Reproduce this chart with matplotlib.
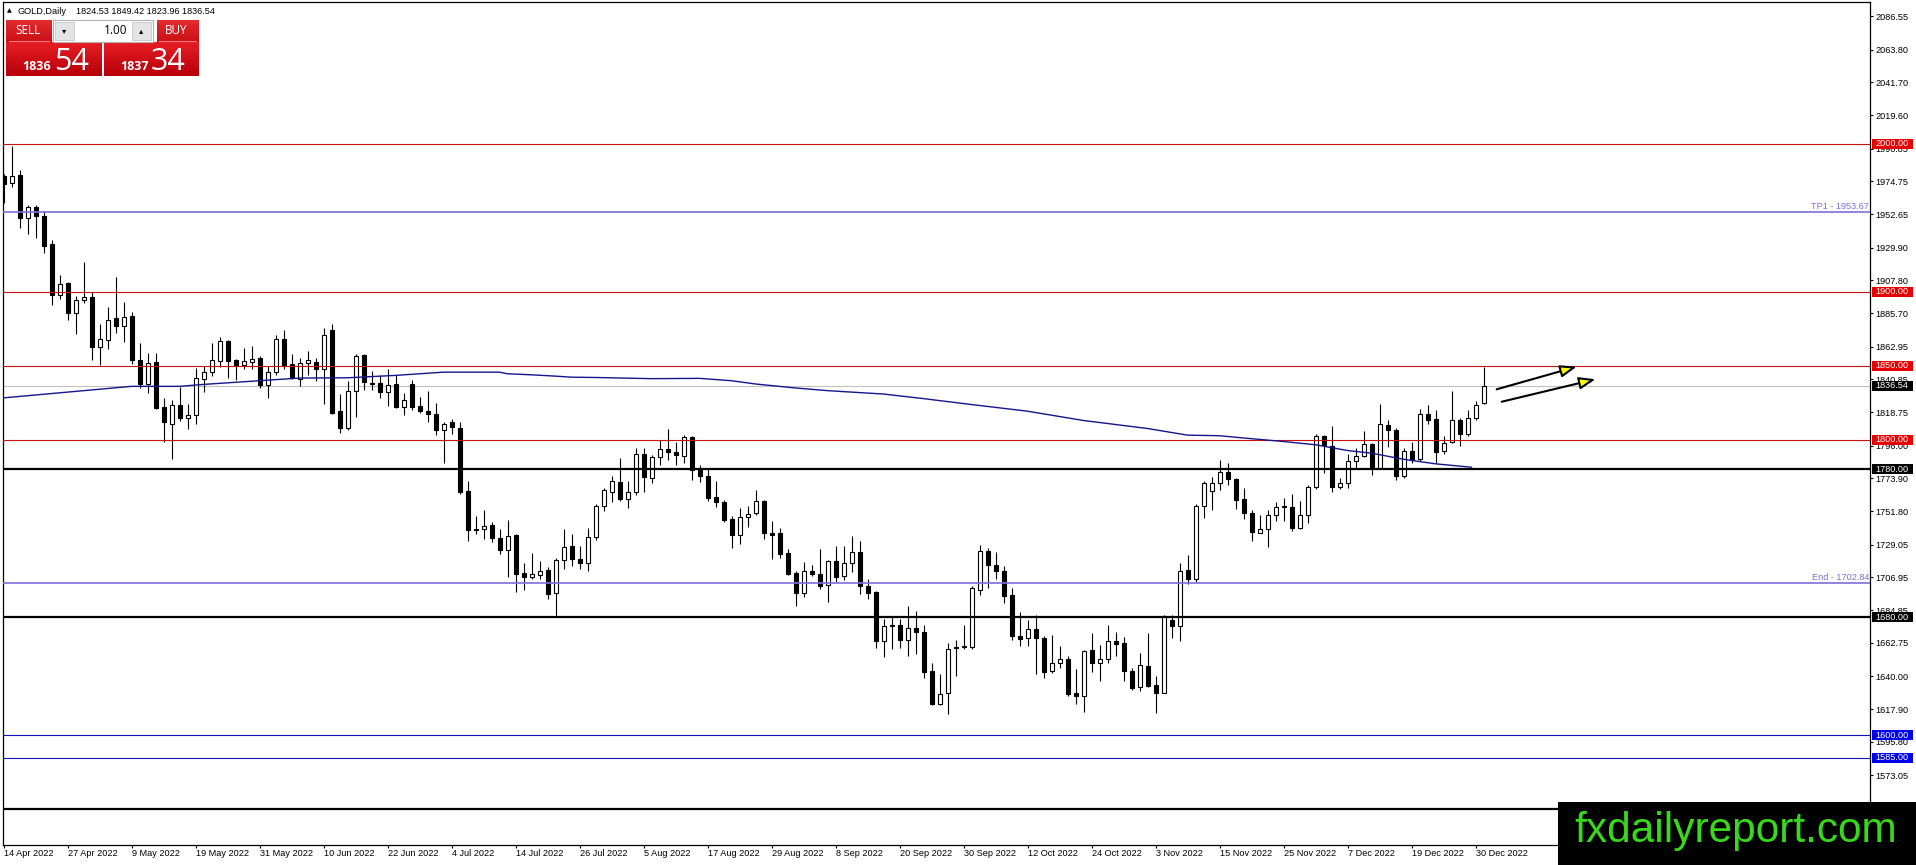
import matplotlib
matplotlib.use("Agg")
import matplotlib.pyplot as plt
from matplotlib.patches import Rectangle
from matplotlib.transforms import blended_transform_factory
import numpy as np

plt.rcParams['font.family'] = ['Liberation Sans', 'DejaVu Sans']

# ---------------- data (GOLD daily, 14 Apr 2022 .. 3 Jan 2023) ----------------
opens = [1978.4, 1973.8, 1978.8, 1950.2, 1957.6, 1951.5, 1932.1, 1897.9, 1905.7, 1885.9,
         1894.5, 1896.3, 1862.7, 1867.4, 1882.1, 1876.9, 1883.4, 1853.7, 1837.9, 1852.3,
         1821.9, 1810.8, 1823.7, 1814.9, 1816.5, 1841.3, 1846.0, 1853.4, 1866.5, 1853.9,
         1850.7, 1852.5, 1855.5, 1837.0, 1846.0, 1868.3, 1851.4, 1841.2, 1852.0, 1852.9,
         1848.0, 1874.3, 1819.6, 1807.9, 1833.1, 1857.0, 1838.7, 1838.5, 1832.2, 1837.4,
         1822.1, 1837.8, 1822.5, 1819.6, 1817.6, 1806.5, 1811.9, 1808.1, 1765.1, 1739.9,
         1739.9, 1742.6, 1733.3, 1725.7, 1735.4, 1709.7, 1707.4, 1708.8, 1711.7, 1696.4,
         1718.5, 1728.4, 1719.6, 1716.9, 1734.0, 1754.9, 1764.4, 1771.6, 1759.8, 1764.6,
         1790.5, 1774.1, 1788.4, 1793.9, 1791.8, 1788.9, 1802.0, 1780.5, 1775.5, 1761.2,
         1758.0, 1746.5, 1735.8, 1747.6, 1750.3, 1758.7, 1736.7, 1736.9, 1723.1, 1710.2,
         1696.3, 1711.5, 1709.0, 1701.6, 1717.7, 1707.9, 1716.3, 1724.0, 1700.9, 1696.8,
         1664.1, 1674.1, 1675.0, 1664.4, 1673.0, 1670.3, 1643.5, 1621.6, 1628.4, 1659.3,
         1659.5, 1659.9, 1698.7, 1724.9, 1715.6, 1711.3, 1695.3, 1667.6, 1665.6, 1672.3,
         1665.6, 1643.7, 1649.3, 1651.4, 1628.6, 1626.8, 1657.7, 1649.1, 1652.0, 1664.0,
         1662.6, 1643.7, 1632.9, 1646.9, 1634.0, 1628.8, 1678.4, 1674.1, 1711.7, 1706.0,
         1755.2, 1765.6, 1770.5, 1778.0, 1773.3, 1759.7, 1750.2, 1737.0, 1739.3, 1748.8,
         1754.9, 1754.3, 1740.4, 1748.8, 1767.8, 1802.2, 1795.9, 1767.8, 1770.5, 1785.3,
         1788.7, 1797.0, 1780.7, 1809.7, 1806.8, 1775.8, 1792.1, 1786.8, 1817.4, 1814.0,
         1792.1, 1798.2, 1813.6, 1803.8, 1814.7, 1824.53]
highs = [1979.5, 1998.6, 1982.2, 1958.5, 1959.0, 1954.9, 1934.8, 1911.2, 1906.9, 1897.2,
         1920.2, 1899.9, 1878.0, 1889.5, 1910.0, 1893.1, 1886.1, 1865.4, 1858.4, 1858.4,
         1828.4, 1826.6, 1835.9, 1824.3, 1848.7, 1849.8, 1865.2, 1869.7, 1867.4, 1854.8,
         1861.8, 1863.6, 1856.6, 1849.8, 1870.6, 1874.0, 1857.7, 1855.4, 1859.7, 1855.0,
         1875.7, 1878.4, 1831.1, 1839.4, 1857.7, 1857.7, 1846.2, 1843.5, 1847.5, 1843.7,
         1831.8, 1840.5, 1829.1, 1832.7, 1825.0, 1811.9, 1814.2, 1811.9, 1772.3, 1748.6,
         1752.2, 1744.6, 1739.9, 1745.5, 1736.0, 1716.4, 1723.6, 1718.0, 1714.2, 1720.3,
         1739.9, 1736.0, 1727.9, 1740.3, 1756.7, 1767.3, 1775.3, 1787.8, 1772.3, 1794.6,
         1794.6, 1790.0, 1799.8, 1807.5, 1798.4, 1802.9, 1802.5, 1783.0, 1780.9, 1772.1,
         1759.4, 1748.1, 1753.7, 1754.9, 1765.7, 1759.2, 1745.1, 1740.1, 1725.8, 1710.9,
         1717.2, 1715.4, 1725.8, 1718.6, 1728.1, 1728.1, 1734.9, 1731.5, 1706.1, 1697.5,
         1678.9, 1680.0, 1678.6, 1687.4, 1684.3, 1675.0, 1648.7, 1641.9, 1662.2, 1664.4,
         1674.6, 1701.0, 1728.7, 1727.1, 1724.2, 1714.5, 1699.4, 1683.2, 1678.0, 1681.8,
         1667.4, 1667.8, 1660.4, 1653.6, 1644.8, 1657.7, 1669.6, 1661.5, 1674.6, 1669.9,
         1666.3, 1645.3, 1656.1, 1669.0, 1640.1, 1681.4, 1681.4, 1716.3, 1721.9, 1756.5,
         1772.4, 1775.1, 1786.4, 1784.1, 1774.0, 1767.2, 1752.4, 1749.0, 1752.4, 1757.6,
         1760.4, 1763.3, 1758.6, 1769.4, 1804.0, 1803.4, 1809.0, 1774.0, 1790.5, 1794.3,
         1806.1, 1797.5, 1824.4, 1813.6, 1807.9, 1794.3, 1798.4, 1821.0, 1823.7, 1820.3,
         1802.2, 1833.2, 1814.7, 1819.9, 1826.0, 1849.42]
lows = [1960.3, 1971.1, 1943.0, 1938.9, 1936.2, 1926.0, 1891.1, 1894.9, 1880.7, 1871.5,
        1892.4, 1853.9, 1850.5, 1861.1, 1871.9, 1866.1, 1851.0, 1835.0, 1831.8, 1820.5,
        1798.4, 1787.1, 1812.6, 1807.4, 1810.8, 1832.2, 1843.1, 1849.2, 1841.9, 1840.4,
        1848.0, 1848.0, 1835.0, 1828.4, 1843.7, 1848.0, 1840.8, 1836.3, 1844.1, 1839.6,
        1824.5, 1817.5, 1804.3, 1806.5, 1815.3, 1833.8, 1833.6, 1828.2, 1822.7, 1821.5,
        1816.7, 1820.0, 1817.8, 1811.9, 1803.2, 1784.2, 1804.1, 1763.5, 1731.5, 1736.5,
        1733.1, 1731.1, 1722.5, 1707.4, 1697.3, 1698.4, 1706.1, 1705.6, 1692.6, 1680.8,
        1712.8, 1714.6, 1712.8, 1711.3, 1732.2, 1751.5, 1757.8, 1758.3, 1753.5, 1762.3,
        1764.6, 1770.5, 1782.8, 1786.6, 1782.8, 1784.3, 1772.6, 1771.2, 1758.9, 1754.6,
        1744.7, 1727.0, 1729.5, 1741.2, 1749.2, 1732.6, 1719.5, 1719.9, 1708.8, 1687.5,
        1693.6, 1707.9, 1699.1, 1690.2, 1703.8, 1705.0, 1710.6, 1695.4, 1692.2, 1658.9,
        1652.8, 1658.8, 1659.3, 1653.6, 1654.8, 1639.2, 1620.3, 1620.9, 1614.2, 1640.3,
        1658.8, 1658.8, 1694.9, 1699.8, 1706.1, 1689.7, 1664.9, 1660.4, 1660.4, 1641.5,
        1639.2, 1642.5, 1645.3, 1626.6, 1621.6, 1616.0, 1643.0, 1637.0, 1648.7, 1653.6,
        1637.0, 1630.6, 1630.2, 1632.5, 1615.3, 1628.4, 1666.0, 1664.0, 1702.6, 1703.8,
        1746.8, 1752.4, 1766.0, 1769.4, 1753.1, 1746.6, 1731.6, 1736.6, 1727.5, 1745.2,
        1745.0, 1738.4, 1739.3, 1743.8, 1767.0, 1777.8, 1764.9, 1766.5, 1767.6, 1780.7,
        1788.2, 1776.2, 1780.0, 1795.4, 1772.8, 1773.9, 1784.1, 1785.3, 1810.8, 1784.1,
        1790.5, 1797.5, 1795.9, 1802.7, 1813.1, 1823.96]
closes = [1972.7, 1978.4, 1949.7, 1957.6, 1951.5, 1931.0, 1897.9, 1905.1, 1885.7, 1894.7,
          1896.7, 1862.7, 1868.3, 1881.2, 1876.9, 1883.2, 1853.9, 1837.9, 1852.1, 1821.2,
          1812.0, 1823.7, 1814.9, 1816.5, 1841.9, 1846.0, 1853.7, 1866.5, 1853.2, 1850.3,
          1853.4, 1854.8, 1837.0, 1846.0, 1868.3, 1850.5, 1841.5, 1852.0, 1853.6, 1848.0,
          1870.9, 1818.2, 1807.9, 1833.1, 1856.8, 1839.0, 1837.4, 1832.2, 1837.2, 1822.1,
          1827.0, 1822.1, 1819.1, 1817.3, 1806.5, 1810.8, 1808.6, 1764.6, 1739.0, 1739.2,
          1741.9, 1733.6, 1725.7, 1735.1, 1709.5, 1707.4, 1709.0, 1711.5, 1695.9, 1718.5,
          1727.7, 1719.6, 1716.9, 1734.5, 1755.3, 1766.2, 1772.1, 1759.8, 1764.4, 1790.5,
          1774.8, 1788.4, 1793.9, 1791.6, 1789.6, 1802.0, 1779.4, 1775.3, 1760.8, 1757.8,
          1745.8, 1735.8, 1747.6, 1750.1, 1758.3, 1737.2, 1735.8, 1722.6, 1709.5, 1696.3,
          1711.3, 1709.3, 1701.1, 1717.7, 1707.2, 1716.3, 1723.8, 1701.3, 1696.3, 1664.1,
          1674.1, 1675.0, 1664.4, 1673.0, 1670.1, 1643.0, 1621.6, 1627.9, 1658.8, 1659.9,
          1660.4, 1699.4, 1724.9, 1715.6, 1710.9, 1694.2, 1667.4, 1665.3, 1672.3, 1665.6,
          1643.0, 1649.3, 1651.4, 1627.9, 1626.8, 1657.0, 1648.7, 1652.0, 1663.8, 1661.7,
          1643.7, 1631.8, 1647.5, 1633.6, 1628.4, 1680.9, 1674.1, 1711.3, 1706.0, 1755.2,
          1770.5, 1770.5, 1778.5, 1773.3, 1759.2, 1750.2, 1737.3, 1739.3, 1749.0, 1754.3,
          1754.3, 1740.4, 1748.8, 1767.8, 1802.2, 1796.6, 1767.8, 1770.5, 1785.3, 1788.7,
          1797.0, 1780.7, 1810.6, 1806.3, 1775.8, 1792.1, 1786.4, 1817.4, 1813.6, 1791.4,
          1797.7, 1813.3, 1803.8, 1814.7, 1823.5, 1836.54]

# moving average line, read at points (bar index, price)
ma_bars = [0, 16, 22, 25, 37, 43, 49, 55, 62, 63, 66, 69, 71, 74, 81, 87, 91, 94, 99,
           103, 110, 115, 121, 128, 135, 143, 148, 152, 156, 160, 164, 168, 171, 175,
           179, 183.5]
ma_vals = [1828.3, 1836.1, 1836.1, 1837.4, 1841.7, 1841.9, 1843.5, 1845.7, 1845.7,
           1844.6, 1843.9, 1843.0, 1842.3, 1842.1, 1841.3, 1841.5, 1839.9, 1837.7, 1835.0,
           1833.2, 1830.9, 1827.8, 1823.8, 1819.3, 1813.0, 1807.6, 1803.1, 1802.7, 1800.7,
           1798.8, 1796.6, 1792.7, 1790.9, 1786.8, 1783.7, 1781.4]

date_labels = ["14 Apr 2022", "27 Apr 2022", "9 May 2022", "19 May 2022", "31 May 2022",
               "10 Jun 2022", "22 Jun 2022", "4 Jul 2022", "14 Jul 2022", "26 Jul 2022",
               "5 Aug 2022", "17 Aug 2022", "29 Aug 2022", "8 Sep 2022", "20 Sep 2022",
               "30 Sep 2022", "12 Oct 2022", "24 Oct 2022", "3 Nov 2022", "15 Nov 2022",
               "25 Nov 2022", "7 Dec 2022", "19 Dec 2022", "30 Dec 2022"]
label_every = 8

price_ticks = [2086.55, 2063.80, 2041.70, 2019.60, 1996.85, 1974.75, 1952.65, 1929.90,
               1907.80, 1885.70, 1862.95, 1840.85, 1818.75, 1796.00, 1773.90, 1751.80,
               1729.05, 1706.95, 1684.85, 1662.75, 1640.00, 1617.90, 1595.80, 1573.05,
               1550.95, 1528.85]

red_levels = [2000.00, 1900.00, 1850.00, 1800.00]
black_levels = [1780.00, 1680.00, 1550.00]
blue_levels = [1600.00, 1585.00]
target_levels = [1953.67, 1702.84]
target_names = ["TP1", "End"]
current_price = 1836.54
header_symbol = "GOLD,Daily"
header_ohlc = [1824.53, 1849.42, 1823.96, 1836.54]
bid_price = 1836.54
ask_price = 1837.34
lot_size = 1.00

# arrows (start bar, start price, tip bar, tip price)
arrows = [(186.65, 1834.1, 196.65, 1849.4),
          (187.28, 1825.7, 199.0, 1840.9)]

# ---------------- figure ----------------
W, H = 1916, 865
fig = plt.figure(figsize=(W / 100, H / 100), dpi=100)
fig.patch.set_facecolor('white')
ax = fig.add_axes([3 / W, 1 - 845 / H, 1867 / W, 843 / H])
ax.set_facecolor('white')
ax.set_xlim(-0.0625, 233.3125)
ax.set_ylim(1525.93, 2096.02)
for s in ax.spines.values():
    s.set_color('black')
    s.set_linewidth(0.9)

RED_LINE = '#cc1010'
RED_BOX = '#e80000'
BLUE_LINE = '#1010c0'
BLUE_BOX = '#0000ee'
LAV = '#7b70dc'

# level lines
for lv in red_levels:
    ax.axhline(lv, color=RED_LINE, lw=0.8, zorder=4.5)
for lv in black_levels:
    ax.axhline(lv, color='black', lw=1.6, zorder=4.5)
for lv in blue_levels:
    ax.axhline(lv, color=BLUE_LINE, lw=0.8, zorder=4.5)
for lv in target_levels:
    ax.axhline(lv, color=LAV, lw=1.2, zorder=4.5)
ax.axhline(current_price, color='#c0c0c0', lw=0.8, zorder=1)

blend = blended_transform_factory(ax.transAxes, ax.transData)
for lv, nm in zip(target_levels, target_names):
    ax.text(0.99965, lv + 0.8, f"{nm} - {lv:.2f}", transform=blend, ha='right', va='bottom',
            color=LAV, fontsize=6.6, zorder=6)

# candles
x = np.arange(len(opens))
o = np.array(opens)
c = np.array(closes)
up = c >= o
ax.vlines(x, lows, highs, colors='black', linewidth=0.8, zorder=3)
ax.bar(x, np.abs(c - o), width=0.5, bottom=np.minimum(o, c),
       color=np.where(up, 'white', 'black'), edgecolor='black', linewidth=0.8, zorder=4)

# moving average
ax.plot(ma_bars, ma_vals, color='#14148c', lw=1.0, zorder=5)

# arrows
for sx, sy, tx, ty in arrows:
    ax.annotate('', xy=(tx, ty), xytext=(sx, sy),
                arrowprops=dict(arrowstyle='-|>,head_length=0.7,head_width=0.26',
                                mutation_scale=14, facecolor='#ffff00', edgecolor='black',
                                lw=1.5, shrinkA=0, shrinkB=0), zorder=6)

# y axis on right
ax.yaxis.tick_right()
ax.set_yticks(price_ticks)
ax.set_yticklabels([f"{t:.2f}" for t in price_ticks])
ax.tick_params(axis='y', direction='out', length=2.2, width=0.8, pad=1.4,
               labelsize=6.6, colors='black')
ax.tick_params(axis='y', left=False)

# x axis
ax.set_xticks(np.arange(len(date_labels)) * label_every)
ax.set_xticklabels(date_labels)
ax.tick_params(axis='x', direction='out', length=2.2, width=0.8, pad=0.8,
               labelsize=6.6, colors='black')
for lab in ax.get_xticklabels():
    lab.set_horizontalalignment('left')

# price boxes on the right axis
half = 5.0 / 1.4787
bx0 = (1871.5 - 3) / 1867
bx1 = (1913 - 3) / 1867


def price_box(val, color):
    ax.add_patch(Rectangle((bx0, val - half), bx1 - bx0, 2 * half, transform=blend,
                           facecolor=color, edgecolor='none', clip_on=False, zorder=7))
    ax.text((bx0 + bx1) / 2, val, f"{val:.2f}", transform=blend, ha='center', va='center',
            color='white', fontsize=6.6, zorder=8, clip_on=False)


for lv in red_levels:
    price_box(lv, RED_BOX)
for lv in black_levels:
    price_box(lv, 'black')
for lv in blue_levels:
    price_box(lv, BLUE_BOX)
price_box(current_price, 'black')


# ---------------- figure-level decorations (pixel helpers) ----------------
def fx(px):
    return px / W


def fy(py):
    return 1 - py / H


def prect(x0, y0, x1, y1, **kw):
    r = Rectangle((fx(x0), fy(y1)), (x1 - x0) / W, (y1 - y0) / H,
                  transform=fig.transFigure, **kw)
    fig.add_artist(r)
    return r


def gradient(x0, y0, x1, y1, c_top, c_bot, steps=12, z=10):
    ct = np.array(matplotlib.colors.to_rgb(c_top))
    cb = np.array(matplotlib.colors.to_rgb(c_bot))
    hgt = (y1 - y0) / steps
    for k in range(steps):
        t = k / (steps - 1)
        prect(x0, y0 + k * hgt, x1, y0 + (k + 1) * hgt + 0.3,
              facecolor=tuple(ct * (1 - t) + cb * t), edgecolor='none', zorder=z)


# header
fig.text(fx(6.5), fy(11), '\u25b2', fontsize=4.5, family=['DejaVu Sans'], va='center',
         ha='left', color='black', zorder=11)
fig.text(fx(18), fy(11), header_symbol, fontsize=6.6, va='center', ha='left', zorder=11)
fig.text(fx(76), fy(11), " ".join(f"{v:.2f}" for v in header_ohlc), fontsize=6.6,
         va='center', ha='left', zorder=11)

# SELL / BUY panel
gradient(6, 20, 52, 42, '#e02a2e', '#cc1016')
gradient(157, 20, 199, 42, '#e02a2e', '#cc1016')
gradient(6, 42, 101.5, 76, '#e41c22', '#b8000a')
gradient(104, 42, 199, 76, '#e41c22', '#b8000a')
prect(9, 41, 50, 41.8, facecolor='#f08080', edgecolor='none', zorder=11)
prect(159, 41, 197, 41.8, facecolor='#f08080', edgecolor='none', zorder=11)
# spinner
prect(52.5, 20, 152.5, 41.5, facecolor='white', edgecolor='#b0b0b0', lw=0.8, zorder=10)
prect(54.5, 22, 73.5, 39.5, facecolor='#e4e4e4', edgecolor='#c8c8c8', lw=0.6, zorder=11)
prect(131.5, 22, 150.5, 39.5, facecolor='#e4e4e4', edgecolor='#c8c8c8', lw=0.6, zorder=11)
fig.text(fx(64), fy(30.5), '\u25be', fontsize=6, family=['DejaVu Sans'], ha='center',
         va='center', zorder=12)
fig.text(fx(141), fy(30.5), '\u25b4', fontsize=6, family=['DejaVu Sans'], ha='center',
         va='center', zorder=12)
fig.text(fx(127.5), fy(30.5), f"{lot_size:.2f}", fontsize=8.5, family=['Open Sans'],
         ha='right', va='center', zorder=12)
fig.text(fx(27.5), fy(30.8), "SELL", fontsize=8.5, family=['Open Sans'], color='white',
         ha='center', va='center', zorder=12)
fig.text(fx(176), fy(30.8), "BUY", fontsize=8.5, family=['Open Sans'], color='white',
         ha='center', va='center', zorder=12)

bid_str = f"{bid_price:.2f}"
ask_str = f"{ask_price:.2f}"
fig.text(fx(22.5), fy(70.5), bid_str.split('.')[0], fontsize=9, fontweight='bold',
         family=['Open Sans'], color='white', ha='left', va='baseline', zorder=12)
fig.text(fx(54), fy(70.5), bid_str.split('.')[1], fontsize=22, family=['Open Sans'],
         color='white', ha='left', va='baseline', zorder=12)
fig.text(fx(120.5), fy(70.5), ask_str.split('.')[0], fontsize=9, fontweight='bold',
         family=['Open Sans'], color='white', ha='left', va='baseline', zorder=12)
fig.text(fx(151), fy(70.5), ask_str.split('.')[1], fontsize=22, family=['Open Sans'],
         color='white', ha='left', va='baseline', zorder=12)

# watermark
prect(1558, 801.5, 1917, 866, facecolor='black', edgecolor='none', zorder=20)
fig.text(fx(1736), fy(842), "fxdailyreport.com", fontsize=30.5, color='#38d81a',
         ha='center', va='baseline', zorder=21)

fig.savefig("out.png", dpi=100)
